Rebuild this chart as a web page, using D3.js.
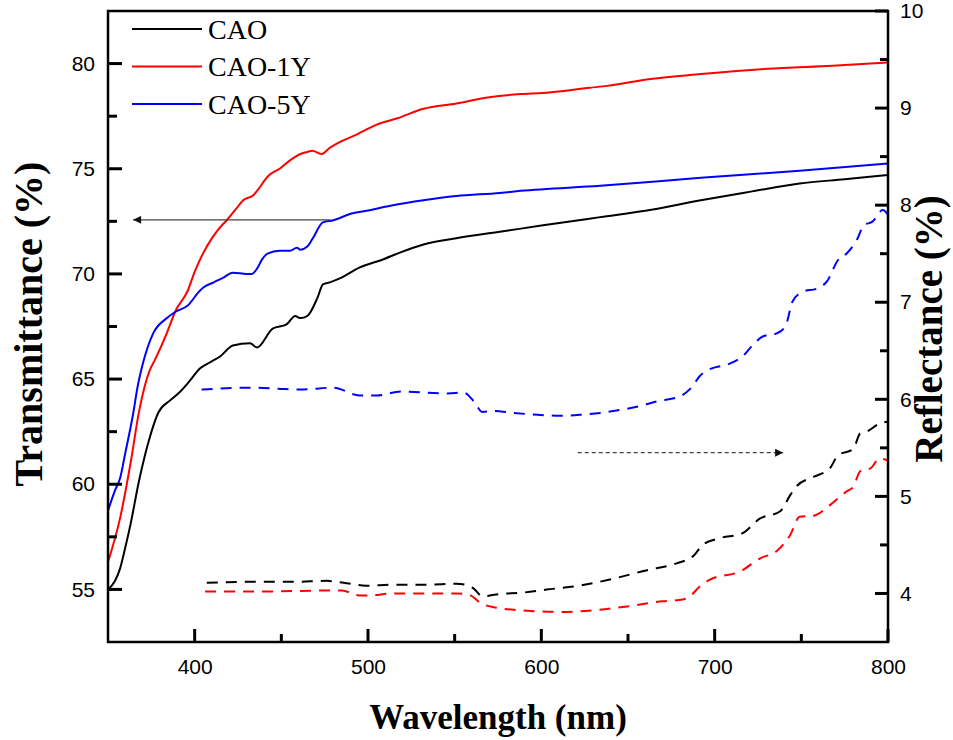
<!DOCTYPE html>
<html>
<head>
<meta charset="utf-8">
<script src="https://cdn.jsdelivr.net/npm/d3@7"></script>
<style>
  body { margin: 0; background: #fff; }
  svg { display: block; }
  .tick text { font-family: "Liberation Sans", Arial, sans-serif; font-size: 21px; fill: #000; }
</style>
</head>
<body>
<svg width="953" height="740"></svg>
<script>
// transmittance (solid, left axis) as [nm, %]
let caoT = [[350,55.0],[354,55.4],[357,56.0],[360,57.0],[363,58.1],[368,60.2],[374,62.2],[379,63.4],[386,64.0],[391,64.35],[397,64.9],[403,65.5],[409,65.8],[415,66.1],[422,66.6],[432,66.7],[436,66.5],[445,67.4],[453,67.6],[458,68.0],[461,67.9],[465,68.0],[471,68.9],[474,69.5],[478,69.6],[484,69.8],[495,70.3],[509,70.7],[518,71.0],[532,71.4],[551,71.7],[576,72.0],[600,72.3],[634,72.7],[660,73.0],[692,73.5],[720,73.9],[749,74.3],[775,74.5],[800,74.7]];
let cao1yT = [[350,56.3],[357,58.4],[363,61.0],[368,63.5],[374,65.4],[377,65.9],[384,67.2],[389,68.25],[396,69.2],[400,70.1],[405,71.0],[410,71.7],[413,72.05],[419,72.6],[424,73.1],[428,73.5],[434,73.75],[436,73.95],[443,74.7],[449,75.0],[455,75.4],[461,75.7],[465,75.8],[468,75.85],[473,75.7],[478,76.0],[482,76.2],[494,76.65],[505,77.1],[517,77.4],[532,77.85],[551,78.1],[570,78.4],[588,78.55],[601,78.6],[628,78.85],[638,78.94],[663,79.27],[692,79.5],[730,79.75],[768,79.9],[800,80.05]];
let cao5yT = [[350,58.75],[354,59.7],[357,60.3],[360,61.5],[363,62.7],[364.5,63.35],[367,64.6],[370,65.7],[376,67.16],[384,67.9],[389,68.2],[396,68.5],[403,69.2],[405,69.35],[411,69.6],[416,69.8],[422,70.06],[430,70.0],[433,70.0],[436,70.25],[439,70.7],[442,70.96],[449,71.1],[455,71.1],[459,71.25],[461,71.15],[465,71.3],[468,71.67],[474,72.45],[480,72.55],[490,72.86],[499,73.0],[513,73.24],[532,73.5],[551,73.7],[576,73.85],[588,73.95],[634,74.19],[692,74.57],[749,74.9],[800,75.25]];

// reflectance (dashed, right axis) as [nm, %]
let caoR = [[407,4.11],[430,4.12],[457,4.12],[476,4.13],[486,4.11],[499,4.08],[514,4.09],[534,4.09],[551,4.10],[556,4.09],[561,4.05],[566,3.97],[574,3.99],[590,4.01],[603,4.04],[622,4.08],[641,4.15],[661,4.24],[678,4.31],[688,4.39],[693,4.5],[703,4.57],[716,4.62],[726,4.77],[738,4.85],[743.5,5.01],[747.5,5.11],[757,5.2],[766.5,5.29],[771,5.42],[780,5.49],[784,5.65],[788,5.67],[795,5.75],[800,5.77]];
let cao1yR = [[406,4.02],[438,4.02],[476,4.03],[485,4.03],[495,3.98],[501,3.98],[514,4.0],[551,4.0],[559,3.98],[565,3.9],[572,3.86],[594,3.82],[612,3.81],[632,3.83],[651,3.87],[670,3.92],[678,3.93],[684,3.95],[692,4.08],[697,4.14],[715,4.23],[726,4.36],[736,4.44],[743.5,4.6],[749,4.79],[757,4.8],[766.5,4.91],[776,5.05],[780,5.1],[784,5.26],[790,5.29],[795,5.39],[800,5.37]];
let cao5yR = [[404,6.10],[434,6.12],[448,6.11],[461,6.10],[480,6.12],[495,6.04],[505,6.04],[519,6.08],[546,6.06],[555,6.07],[561,5.98],[566,5.87],[572,5.88],[584,5.86],[598,5.84],[611,5.83],[622,5.84],[634,5.86],[645,5.89],[657,5.93],[667,5.98],[680,6.03],[686,6.11],[692,6.25],[696,6.30],[709,6.37],[716,6.44],[722,6.56],[728,6.65],[736,6.68],[741,6.76],[745,7.01],[751,7.11],[759,7.14],[765,7.22],[771,7.43],[776,7.5],[782,7.64],[786,7.79],[791,7.83],[797,7.95],[800,7.9]];

let names = ["CAO", "CAO-1Y", "CAO-5Y"];
let colors = ["#000000", "#ff0000", "#0000ff"];
let xTicks = [400, 500, 600, 700, 800];
let xMinor = [450, 550, 650, 750];
let leftTicks = [55, 60, 65, 70, 75, 80];
let leftMinor = [57.5, 62.5, 67.5, 72.5, 77.5];
let rightTicks = [4, 5, 6, 7, 8, 9, 10];
let rightMinor = [4.5, 5.5, 6.5, 7.5, 8.5, 9.5];

let svg = d3.select("svg");
let mLeft = 108, mRight = 888, mTop = 11, mBottom = 642;

let x = d3.scaleLinear().domain([350, 800]).range([mLeft, mRight]);
let yT = d3.scaleLinear().domain([52.5, 82.5]).range([mBottom, mTop]);
let yR = d3.scaleLinear().domain([3.5, 10]).range([mBottom, mTop]);

// curves
let lineT = d3.line().curve(d3.curveMonotoneX).x(d => x(d[0])).y(d => yT(d[1]));
let lineR = d3.line().curve(d3.curveMonotoneX).x(d => x(d[0])).y(d => yR(d[1]));

[caoR, cao1yR, cao5yR].forEach(function (s, i) {
    svg.append("path")
        .attr("d", lineR(s))
        .attr("fill", "none")
        .attr("stroke", colors[i])
        .attr("stroke-width", 2)
        .attr("stroke-dasharray", "11,8");
});
[caoT, cao1yT, cao5yT].forEach(function (s, i) {
    svg.append("path")
        .attr("d", lineT(s))
        .attr("fill", "none")
        .attr("stroke", colors[i])
        .attr("stroke-width", 2);
});

// axis labels
svg.append("g").attr("transform", "translate(0," + mBottom + ")")
    .call(d3.axisBottom(x).tickValues(xTicks).tickSize(0).tickPadding(17));
svg.append("g").attr("transform", "translate(" + mLeft + ",0)")
    .call(d3.axisLeft(yT).tickValues(leftTicks).tickSize(0).tickPadding(13));
svg.append("g").attr("transform", "translate(" + mRight + ",0)")
    .call(d3.axisRight(yR).tickValues(rightTicks).tickFormat(d3.format("d")).tickSize(0).tickPadding(12));
svg.selectAll(".domain").remove();

// frame
svg.append("rect")
    .attr("x", mLeft).attr("y", mTop)
    .attr("width", mRight - mLeft).attr("height", mBottom - mTop)
    .attr("fill", "none").attr("stroke", "#000").attr("stroke-width", 2.5);

// inward tick marks
let tickG = svg.append("g");
function xTickMarks(vals, len) {
    tickG.selectAll(null).data(vals).enter().append("line")
        .attr("x1", d => x(d)).attr("x2", d => x(d))
        .attr("y1", mBottom).attr("y2", mBottom - len)
        .style("stroke", "#000").style("stroke-width", "3px");
}
function yTickMarks(scale, vals, x0, len) {
    tickG.selectAll(null).data(vals).enter().append("line")
        .attr("x1", x0).attr("x2", x0 + len)
        .attr("y1", d => scale(d)).attr("y2", d => scale(d))
        .style("stroke", "#000").style("stroke-width", "3px");
}
xTickMarks(xTicks, 13);
xTickMarks(xMinor, 8);
yTickMarks(yT, leftTicks, mLeft, 14);
yTickMarks(yT, leftMinor, mLeft, 9);
yTickMarks(yR, rightTicks, mRight, -13);
yTickMarks(yR, rightMinor, mRight, -8);

// arrows
svg.append("defs").selectAll("marker")
    .data(["solid", "dash"])
    .enter().append("marker")
    .attr("id", d => "arr-" + d)
    .attr("viewBox", "0 0 10 10")
    .attr("refX", 10).attr("refY", 5)
    .attr("markerWidth", 16).attr("markerHeight", 8)
    .attr("markerUnits", "userSpaceOnUse")
    .attr("orient", "auto")
    .append("path")
    .attr("d", "M0,0 L10,5 L0,10 Z")
    .attr("fill", "#111");

svg.append("line")
    .attr("x1", x(478)).attr("x2", x(364.5))
    .attr("y1", yT(72.57)).attr("y2", yT(72.57))
    .attr("stroke", "#444").attr("stroke-width", 1.2)
    .attr("marker-end", "url(#arr-solid)");
svg.append("line")
    .attr("x1", x(621)).attr("x2", x(739.5))
    .attr("y1", yR(5.45)).attr("y2", yR(5.45))
    .attr("stroke", "#444").attr("stroke-width", 1.2)
    .attr("stroke-dasharray", "4,3")
    .attr("marker-end", "url(#arr-dash)");

// legend
let legend = svg.append("g");
names.forEach(function (n, i) {
    let yy = 29 + i * 37.5;
    legend.append("line")
        .attr("x1", 132).attr("x2", 202)
        .attr("y1", yy).attr("y2", yy)
        .attr("stroke", colors[i]).attr("stroke-width", 2);
    legend.append("text")
        .attr("x", 208).attr("y", yy)
        .attr("dy", "0.35em")
        .style("font-family", "'Liberation Serif', 'Times New Roman', serif")
        .style("font-size", "28px")
        .text(n);
});

// axis titles
let titleFont = "'Liberation Serif', 'Times New Roman', serif";
svg.append("text")
    .attr("x", (mLeft + mRight) / 2).attr("y", 729)
    .attr("text-anchor", "middle")
    .style("font-family", titleFont).style("font-weight", "bold").style("font-size", "35px")
    .text("Wavelength (nm)");
svg.append("text")
    .attr("transform", "translate(42,324) rotate(-90)")
    .attr("text-anchor", "middle")
    .style("font-family", titleFont).style("font-weight", "bold").style("font-size", "40px")
    .text("Transmittance (%)");
svg.append("text")
    .attr("transform", "translate(942,329) rotate(-90)")
    .attr("text-anchor", "middle")
    .style("font-family", titleFont).style("font-weight", "bold").style("font-size", "39px")
    .text("Reflectance (%)");
</script>
</body>
</html>
